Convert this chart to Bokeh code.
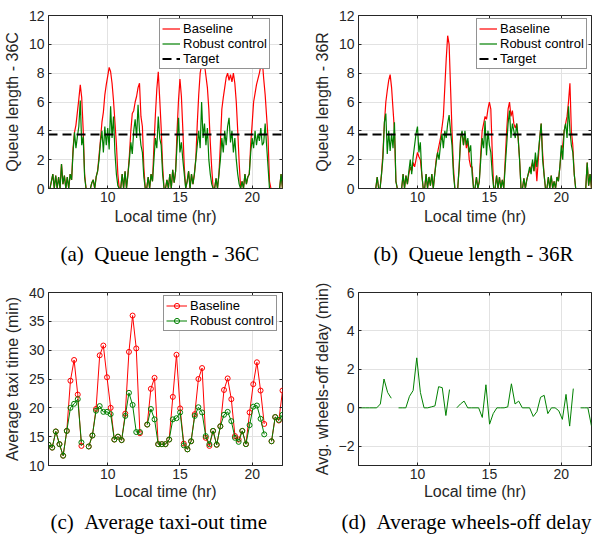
import numpy as np
from bokeh.plotting import figure
from bokeh.models import Range1d, FixedTicker, Legend, LegendItem, LinearAxis
from bokeh.layouts import column, row
from bokeh.embed import file_html
from bokeh.resources import INLINE

nan = float("nan")

# ---------------- data ----------------
# queue length samples every 0.1 hr from 5.9 to 22.1
t_queue = np.round(np.arange(5.9, 22.15, 0.1), 1)

queue_36c_baseline = (
    [0]
    + [0, 0.5, 1.0, 0, 0.9, 0, 0.8, 0, 1.7, 0.3]
    + [0.9, 0, 0.8, 0, 1.0, 0.6, 2.8, 3.9, 4.4, 5.3]
    + [6.2, 7.2, 6.3, 4.1, 1.0, 0, 0, 0, 0, 0.4]
    + [0.6, 0, 0.8, 1.2, 2.3, 3.4, 4.6, 5.3, 6.5, 7.2]
    + [7.8, 8.4, 8.1, 7.3, 6.1, 4.6, 3.1, 1.0, 0, 0]
    + [1.0, 0, 1.2, 0, 1.0, 2.3, 4.0, 5.2, 5.4, 6.0]
    + [6.4, 7.0, 7.3, 5.0, 4.3, 1.5, 0, 0, 0.8, 0]
    + [1.0, 0.5, 3.0, 5.1, 6.9, 8.1, 6.2, 4.2, 1.6, 0]
    + [0, 0.6, 0, 1.0, 0, 1.3, 0.4, 1.2, 4.0, 6.1]
    + [7.6, 6.4, 4.1, 1.5, 0, 0.5, 1.2, 0, 1.0, 0.3]
    + [1.0, 2.1, 4.5, 6.5, 8.0, 8.6, 8.9, 8.6, 7.8, 7.0]
    + [5.5, 3.2, 1.4, 0, 0, 0.7, 0, 1.0, 3.1, 5.5]
    + [6.3, 7.0, 7.7, 8.0, 7.5, 7.9, 7.4, 8.0, 7.3, 6.0]
    + [4.0, 1.8, 0, 0.5, 0, 1.0, 0.3, 0.8, 1.0, 3.1]
    + [4.5, 6.0, 6.6, 7.2, 7.6, 8.0, 8.5, 8.9, 7.6, 6.5]
    + [5.0, 3.5, 0.5, 0, 0, 0, 0, 0, 0, 0]
    + [1.0, 0]
)
queue_36c_robust = (
    [0]
    + [0, 0.5, 1.0, 0, 0.9, 0, 0.8, 0, 1.7, 0.3]
    + [0.9, 0, 0.8, 0, 1.0, 0.6, 2.5, 3.9, 2.8, 3.6]
    + [4.3, 6.1, 3.0, 3.6, 0.8, 0, 0, 0, 0, 0.4]
    + [0.6, 0, 0.8, 1.2, 2.0, 3.2, 4.0, 2.5, 4.3, 3.0]
    + [4.2, 2.7, 5.7, 3.5, 5.0, 2.5, 1.0, 0.2, 0, 0]
    + [1.0, 0, 1.2, 0, 1.0, 2.0, 3.2, 2.4, 4.0, 4.8]
    + [3.5, 5.8, 4.0, 3.0, 2.5, 0.8, 0, 0, 0.8, 0]
    + [1.0, 0.5, 2.0, 3.5, 2.8, 5.0, 3.5, 3.0, 1.0, 0]
    + [0, 0.6, 0, 1.0, 0, 1.3, 0.4, 1.2, 3.0, 4.9]
    + [2.5, 3.2, 2.0, 1.0, 0, 0.5, 1.2, 0, 1.0, 0.3]
    + [1.0, 2.0, 3.0, 4.0, 2.8, 6.0, 3.5, 4.5, 3.0, 4.2]
    + [2.0, 1.0, 0.3, 0, 0, 0.7, 0, 1.0, 2.0, 3.5]
    + [2.5, 4.0, 3.0, 4.3, 4.9, 3.2, 4.0, 2.5, 3.5, 2.0]
    + [1.0, 0.3, 0, 0.5, 0, 1.0, 0.3, 0.8, 1.0, 2.5]
    + [3.5, 2.8, 4.0, 3.0, 3.8, 3.3, 4.2, 3.0, 3.2, 4.5]
    + [3.0, 1.5, 0, 0, 0, 0, 0, 0, 0, 0]
    + [1.0, 0]
)
queue_36r_baseline = (
    [0]
    + [0, 0, 0, 0, 0, 0, 0, 0, 0, 0]
    + [0, 0, 0.8, 0, 0, 1.0, 2.5, 4.5, 6.0, 6.8]
    + [7.5, 7.9, 7.0, 5.5, 4.0, 0.5, 0, 0, 0, 0]
    + [1.0, 0, 0.9, 0.3, 1.0, 1.5, 1.2, 1.8, 1.5, 2.0]
    + [2.5, 2.2, 2.0, 1.0, 0, 0, 1.0, 0, 0.8, 0.2]
    + [1.0, 0, 1.0, 2.0, 2.5, 3.0, 3.5, 4.2, 5.0, 7.0]
    + [9.0, 10.6, 10.0, 7.0, 4.0, 1.5, 0, 0, 0, 1.5]
    + [3.5, 3.9, 3.0, 3.8, 2.8, 3.3, 2.0, 1.5, 1.5, 0]
    + [0, 0.8, 0, 0.5, 2.5, 4.0, 4.5, 5.0, 4.8, 5.5]
    + [6.0, 5.5, 2.5, 0, 0, 0.9, 0, 0.8, 0, 0.6]
    + [0, 2.0, 4.0, 5.5, 6.0, 5.0, 5.4, 4.5, 4.2, 4.5]
    + [3.5, 2.0, 0, 0, 0.7, 0, 0.6, 1.0, 1.2, 1.5]
    + [1.8, 1.2, 2.0, 0.5, 2.0, 3.5, 4.5, 2.5, 1.0, 0]
    + [0, 0.8, 0, 0.9, 0, 0.5, 0, 0.8, 0.5, 1.5]
    + [2.5, 3.0, 4.0, 4.5, 5.0, 6.0, 7.3, 4.0, 3.0, 1.0]
    + [0, 0, 0, 0, 0, 0, 0, 0, 1.8, 0.2]
    + [1.0, 0]
)
queue_36r_robust = (
    [0]
    + [0, 0, 0, 0, 0, 0, 0, 0, 0, 0]
    + [0, 0, 0.8, 0, 0, 1.0, 2.1, 4.6, 5.2, 2.4]
    + [4.0, 2.6, 3.8, 2.8, 4.6, 0.5, 0, 0, 0, 0]
    + [1.0, 0, 0.9, 0.3, 1.2, 2.0, 1.0, 2.2, 3.0, 3.8]
    + [4.3, 2.5, 3.2, 1.0, 0, 0, 1.0, 0, 0.8, 0.2]
    + [1.0, 0, 1.0, 1.8, 2.5, 2.0, 3.0, 3.8, 2.8, 4.0]
    + [3.5, 4.5, 5.1, 4.0, 3.0, 1.0, 0, 0, 0, 1.5]
    + [3.5, 4.0, 3.0, 4.0, 3.0, 3.5, 2.5, 3.0, 1.0, 0]
    + [0, 0.8, 0, 0.5, 2.0, 3.5, 2.8, 4.7, 2.3, 4.0]
    + [3.0, 2.5, 1.0, 0, 0, 0.9, 0, 0.8, 0, 0.6]
    + [0, 1.5, 3.0, 4.5, 5.4, 3.5, 4.5, 4.0, 3.5, 4.5]
    + [3.5, 2.0, 0, 0, 0.7, 0, 0.6, 1.0, 1.5, 1.0]
    + [2.0, 1.2, 2.5, 1.5, 2.5, 3.5, 4.5, 2.0, 1.0, 0]
    + [0, 0.8, 0, 0.9, 0, 0.5, 0, 0.8, 0.5, 1.5]
    + [3.0, 2.0, 4.0, 4.5, 3.5, 5.7, 4.0, 3.0, 2.5, 1.0]
    + [0, 0, 0, 0, 0, 0, 0, 0, 1.8, 0.2]
    + [1.0, 0]
)
queue_target = 3.75

# 65 time bins between 5.9 and 22.1 hr
t_bins = np.linspace(5.9, 22.1, 65)
taxi_baseline = [13.6, 13.1, 15.9, 13.7, 11.7, 16.0, 24.7, 28.3, 22.3, 13.4, nan,
                 13.3, 15.2, 19.8, 29.1, 30.8, 25.3, 20.0, 14.5, 15.0, 14.4, 19.0, 29.7, 36.0, 30.3, 15.6, nan,
                 17.1, 23.3, 25.2, 13.7, 13.7, 13.7, 14.5, 21.9, 29.2, 19.9, 13.8, 12.8, 14.2, 18.9,
                 25.0, 26.9, 14.8, 13.4, 16.0, 13.6, 16.8, 23.1, 25.1, 21.5, 15.1, 14.5, 16.0, 13.7,
                 19.2, 24.1, 27.9, 23.0, 17.2, nan,
                 14.2, 18.4, 17.8, 23.0]
taxi_robust = [13.6, 13.1, 15.9, 13.7, 11.7, 16.0, 20.0, 20.7, 21.5, 14.0, nan,
               13.3, 15.2, 19.5, 20.3, 19.3, 19.3, 18.9, 14.5, 15.0, 14.4, 18.6, 22.6, 20.5, 15.8, 15.8, nan,
               17.1, 19.8, 18.0, 13.7, 13.7, 13.7, 14.5, 18.0, 18.2, 19.2, 13.5, 12.8, 14.2, 18.6,
               20.1, 19.2, 15.1, 13.7, 16.0, 13.6, 16.8, 18.8, 19.3, 17.7, 14.8, 14.1, 16.0, 13.7,
               17.0, 20.2, 20.4, 18.1, 15.4, nan,
               14.2, 18.4, 17.9, 18.8]
wheels_off_delay = [0, 0, 0, 0, 0, 0, 0.2, 1.5, 0.8, 0.5, nan,
                    0, 0, 0, 0.6, 0.9, 2.6, 0.8, 0, 0, 0.05, 0.1, 1.1, 1.05, -0.4, 0.95, nan,
                    0, 0.2, 0.35, 0, 0, 0, 0, -0.5, 1.2, -0.85, -0.3, 0, 0, 0, 0.05, 1.25, 0.2, 0.35,
                    0, 0, 0, -0.45, -0.2, 0.55, 0.65, -0.3, 0, 0, -0.15, -0.6, 0.7, -0.95, 1.0, nan,
                    0, 0, 0, -0.95]

x_ticks = [10, 15, 20]
queue_ticks = [0, 2, 4, 6, 8, 10, 12]
taxi_ticks = [10, 15, 20, 25, 30, 35, 40]
delay_ticks = [-2, 0, 2, 4, 6]
x_limits = (5.9, 22.1)

# ---------------- style ----------------
AX = "#262626"
RED = "#ff0000"
GREEN = "#008000"
SANS = "Liberation Sans"
SERIF = "Liberation Serif"


def box_axis(ticks):
    # tick marks only (MATLAB "box on" look): no labels, no line
    return LinearAxis(ticker=FixedTicker(ticks=ticks), axis_line_color=None,
                      major_tick_in=3, major_tick_out=0, major_tick_line_color=AX,
                      minor_tick_line_color=None, major_label_standoff=0,
                      major_label_text_color=None, major_label_text_font_size="0px",
                      major_label_overrides={t: "" for t in ticks})


def make_fig(width, height, borders, ylim, yticks, ylabel, caption, cap_align, cap_offset,
             cap_standoff, xlab_standoff):
    left, right, top, bottom = borders
    p = figure(width=width, height=height, output_backend="svg", toolbar_location=None, tools="",
               x_range=Range1d(*x_limits), y_range=Range1d(*ylim),
               min_border_left=left, min_border_right=right,
               min_border_top=top, min_border_bottom=bottom,
               title=caption, title_location="below")
    p.background_fill_color = "white"
    p.border_fill_color = "white"
    p.outline_line_color = AX
    p.outline_line_width = 1
    p.outline_line_alpha = 1
    p.xaxis.ticker = FixedTicker(ticks=x_ticks)
    p.yaxis.ticker = FixedTicker(ticks=yticks)
    p.xaxis.axis_label = "Local time (hr)"
    p.yaxis.axis_label = ylabel
    for ax in (p.xaxis[0], p.yaxis[0]):
        ax.axis_line_color = AX
        ax.major_tick_line_color = AX
        ax.major_tick_in = 3
        ax.major_tick_out = 0
        ax.minor_tick_line_color = None
        ax.major_label_text_font = SANS
        ax.major_label_text_font_size = "14px"
        ax.major_label_text_color = AX
        ax.axis_label_text_font = SANS
        ax.axis_label_text_font_size = "16px"
        ax.axis_label_text_font_style = "normal"
        ax.axis_label_text_color = AX
    p.xaxis.major_label_standoff = 3
    p.xaxis.axis_label_standoff = xlab_standoff
    p.yaxis.major_label_standoff = 4
    p.yaxis.axis_label_standoff = 5
    p.add_layout(box_axis(x_ticks), "above")
    p.add_layout(box_axis(yticks), "right")
    p.grid.grid_line_color = "#e2e2e2"
    p.grid.grid_line_width = 1
    p.title.text_font = SERIF
    p.title.text_font_size = "21px"
    p.title.text_font_style = "normal"
    p.title.text_color = "black"
    p.title.align = cap_align
    p.title.offset = cap_offset
    p.title.standoff = cap_standoff
    return p


def style_legend(leg, loc):
    leg.location = loc
    leg.label_text_font = SANS
    leg.label_text_font_size = "13px"
    leg.label_text_color = "black"
    leg.glyph_width = 18
    leg.glyph_height = 13
    leg.label_height = 13
    leg.label_standoff = 3
    leg.spacing = 0
    leg.padding = 2
    leg.margin = 0
    leg.border_line_color = AX
    leg.border_line_width = 1
    leg.background_fill_color = "white"
    leg.background_fill_alpha = 1


def queue_panel(borders, base, robust, ylabel, caption, cap_offset, legend_loc):
    p = make_fig(298, 279, borders, (0, 12), queue_ticks, ylabel, caption, "left", cap_offset,
                 25, 3)
    rb = p.line(t_queue, base, line_color=RED, line_width=1.2)
    rr = p.line(t_queue, robust, line_color=GREEN, line_width=1.2)
    rt = p.line([x_limits[0], x_limits[1]], [queue_target, queue_target],
                line_color="black", line_width=2, line_dash="9 5")
    leg = Legend(items=[LegendItem(label="Baseline", renderers=[rb]),
                        LegendItem(label="Robust control", renderers=[rr]),
                        LegendItem(label="Target", renderers=[rt])])
    style_legend(leg, legend_loc)
    p.add_layout(leg)
    return p


pa = queue_panel((48, 16, 15, 91), queue_36c_baseline, queue_36c_robust,
                 "Queue length - 36C", "(a)\u2002Queue length - 36C", 12, (111, 119))
pb = queue_panel((60, 5, 15, 91), queue_36r_baseline, queue_36r_robust,
                 "Queue length - 36R", "(b)\u2002Queue length - 36R", 15, (118, 119))

# (c) taxi time
pc = make_fig(298, 260, (48, 16, 13, 74), (10, 40), taxi_ticks, "Average taxi time (min)",
              "(c)\u2002Average taxi-out time", "left", 2, 10, 1)
cb_l = pc.line(t_bins, taxi_baseline, line_color=RED, line_width=1)
cb_s = pc.scatter(t_bins, taxi_baseline, marker="circle", size=5, line_color=RED,
                  fill_color=None, line_width=1)
cr_l = pc.line(t_bins, taxi_robust, line_color=GREEN, line_width=1)
cr_s = pc.scatter(t_bins, taxi_robust, marker="circle", size=5, line_color=GREEN,
                  fill_color=None, line_width=1)
leg_c = Legend(items=[LegendItem(label="Baseline", renderers=[cb_l, cb_s]),
                      LegendItem(label="Robust control", renderers=[cr_l, cr_s])])
style_legend(leg_c, (115, 134))
leg_c.glyph_width = 21
pc.add_layout(leg_c)

# (d) wheels-off delay
pd_ = make_fig(298, 260, (60, 5, 13, 74), (-3, 6), delay_ticks, "Avg. wheels-off delay (min)",
               "(d)\u2002Average wheels-off delay", "right", 0, 10, 1)
pd_.line(t_bins, wheels_off_delay, line_color=GREEN, line_width=1)

layout = column(row(pa, pb), row(pc, pd_))
open("out.html", "w").write(file_html(layout, INLINE))
